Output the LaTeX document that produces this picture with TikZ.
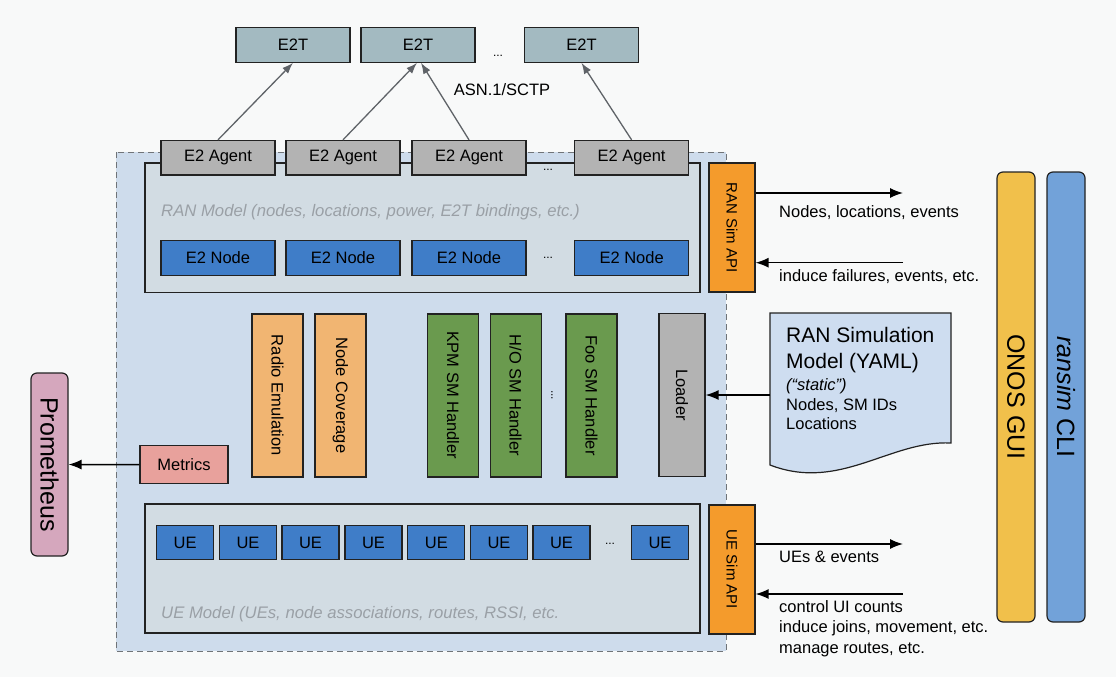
\documentclass[tikz,border=0pt]{standalone}
\usepackage{fontspec}
\setmainfont{Liberation Sans}
\usetikzlibrary{arrows.meta, positioning, calc}
\definecolor{pageGray}{HTML}{F8F9F9}
\definecolor{simBlue}{HTML}{CEDCEC}
\definecolor{modelGray}{HTML}{D2DCE3}
\definecolor{lineDark}{HTML}{222222}
\definecolor{dashGray}{HTML}{707478}
\definecolor{e2tTeal}{HTML}{A3BAC1}
\definecolor{agentGray}{HTML}{B3B3B3}
\definecolor{nodeBlue}{HTML}{3F7DC8}
\definecolor{apiOrange}{HTML}{F49B2C}
\definecolor{emuOrange}{HTML}{F1B572}
\definecolor{smGreen}{HTML}{6A9A4E}
\definecolor{docBlue}{HTML}{CEDDF0}
\definecolor{metricsPink}{HTML}{E8A19C}
\definecolor{promMauve}{HTML}{D5A7BD}
\definecolor{guiYellow}{HTML}{F1C04B}
\definecolor{cliBlue}{HTML}{72A2D9}
\definecolor{textMuted}{HTML}{9AA0A6}
\definecolor{linkGray}{HTML}{5F6368}

\begin{document}
\begin{tikzpicture}[x=1pt, y=-1pt, font=\fontsize{16.5}{19.5}\selectfont,
    box/.style={rectangle, draw=lineDark, line width=1.2pt, inner sep=0pt},
    wide/.style={box, minimum width=114pt, minimum height=34.5pt},
    ue/.style={box, fill=nodeBlue, minimum width=57pt, minimum height=34.5pt},
    vbox/.style={box, rotate=-90, minimum width=163pt, minimum height=51pt},
    api/.style={box, fill=apiOrange, rotate=-90, minimum width=129pt,
      minimum height=46pt, font=\fontsize{15}{18}\selectfont},
    client/.style={box, rounded corners=6pt, rotate=-90, minimum height=38pt,
      font=\fontsize{25}{30}\selectfont},
    model/.style={draw=lineDark, line width=1.2pt, fill=modelGray},
    modeltext/.style={anchor=west, inner sep=0pt, text=textMuted,
      font=\fontsize{16.7}{19}\selectfont\itshape},
    note/.style={anchor=west, align=left, inner sep=0pt},
    dots/.style={font=\fontsize{12}{14}\selectfont},
    link/.style={draw=linkGray, line width=1.3pt, -{Latex[length=11pt, width=8pt]}},
    flow/.style={draw=black, line width=1.4pt, -{Latex[length=13pt, width=10pt]}}]
    \fill[pageGray] (0,0) rectangle (1116,677);
    \useasboundingbox (0,0) rectangle (1116,677);
    % --- E2 terminations ---
    \node[wide, fill=e2tTeal] (e2t1) at (293,45) {E2T};
    \node[wide, fill=e2tTeal] (e2t2) at (418,45) {E2T};
    \node[wide, fill=e2tTeal] (e2t3) at (581.5,45) {E2T};
    \node[dots] (e2tdots) at (498,56) {...};
    \node (asn) at (502,90) {ASN.1/SCTP};
    % --- simulator container ---
    \draw[draw=dashGray, line width=1pt, fill=simBlue, dash pattern=on 6pt off 4pt]
      (116,152) rectangle (726,651);
    % --- RAN model ---
    \draw[model] (145,163) rectangle (700,292.5);
    \node[modeltext] (rantxt) at (161,212) {RAN Model (nodes, locations, power, E2T bindings, etc.)};
    \node[wide, fill=agentGray] (ag1) at (218,157.7) {E2 Agent};
    \node[wide, fill=agentGray] (ag2) at (343,157.7) {E2 Agent};
    \node[wide, fill=agentGray] (ag3) at (469,157.7) {E2 Agent};
    \node[wide, fill=agentGray] (ag4) at (631.6,157.7) {E2 Agent};
    \node[dots] (agdots) at (548,170) {...};
    \node[wide, fill=nodeBlue] (nd1) at (218,258) {E2 Node};
    \node[wide, fill=nodeBlue] (nd2) at (343,258) {E2 Node};
    \node[wide, fill=nodeBlue] (nd3) at (469,258) {E2 Node};
    \node[wide, fill=nodeBlue] (nd4) at (631.6,258) {E2 Node};
    \node[dots] (nddots) at (548,258) {...};
    \draw[link] (ag1.north) -- (e2t1.south);
    \draw[link] (ag2.north) -- ([xshift=-1pt]e2t2.south);
    \draw[link] (ag3.north) -- ([xshift=3pt]e2t2.south);
    \draw[link] (ag4.north) -- (e2t3.south);
    % --- RAN Sim API ---
    \node[api] (ranapi) at (732,227.5) {RAN Sim API};
    \coordinate (ranout) at (903,193);
    \coordinate (ranin) at (903,262.7);
    \draw[flow] (ranapi.north |- ranout) -- (ranout);
    \draw[flow] (ranin) -- (ranapi.north |- ranin);
    \node[note] (ranoutlbl) at (779,213) {Nodes, locations, events};
    \node[note] (raninlbl) at (779,276.7) {induce failures, events, etc.};
    % --- clients ---
    \node[client, fill=guiYellow, minimum width=450pt] (gui) at (1016,397) {ONOS GUI};
    \node[client, fill=cliBlue, minimum width=450pt] (cli) at (1066,397) {\textit{ransim} CLI};
    % --- emulation and SM handlers ---
    \node[vbox, fill=emuOrange] (radio) at (277.5,395.5) {Radio Emulation};
    \node[vbox, fill=emuOrange] (cover) at (340.5,395.5) {Node Coverage};
    \node[vbox, fill=smGreen] (kpm) at (453,395.5) {KPM SM Handler};
    \node[vbox, fill=smGreen] (ho) at (515.6,395.5) {H/O SM Handler};
    \node[dots, rotate=-90] (smdots) at (552,395) {...};
    \node[vbox, fill=smGreen] (foo) at (591.5,395.5) {Foo SM Handler};
    \node[vbox, fill=agentGray, minimum height=46pt] (loader) at (682,395) {Loader};
    % --- YAML model document ---
    \draw[draw=lineDark, line width=1.2pt, fill=docBlue]
      (770,313) -- (951,313) -- (951,443) .. controls (890,440) and (840,492) .. (770,465) -- cycle;
    \coordinate (docout) at (770,395);
    \node[note, font=\fontsize{21}{26}\selectfont] (doctitle) at (786,350) {RAN Simulation\\Model (YAML)};
    \node[note, font=\fontsize{16.5}{19.5}\selectfont] (docbody) at (786,404.5)
      {\textit{(“static”)}\\Nodes, SM IDs\\Locations};
    \draw[flow] (docout) -- (loader);
    % --- metrics ---
    \node[box, fill=metricsPink, minimum width=88pt, minimum height=38pt] (metrics) at (184,464.7) {Metrics};
    \node[client, fill=promMauve, minimum width=183pt, minimum height=37pt] (prom) at (49.5,464.5) {Prometheus};
    \draw[flow] (metrics) -- (prom);
    % --- UE model ---
    \draw[model] (145,504) rectangle (700,633);
    \node[ue] (ue1) at (185.2,542.5) {UE};
    \node[ue] (ue2) at (248,542.5) {UE};
    \node[ue] (ue3) at (310.5,542.5) {UE};
    \node[ue] (ue4) at (373.5,542.5) {UE};
    \node[ue] (ue5) at (436.3,542.5) {UE};
    \node[ue] (ue6) at (499,542.5) {UE};
    \node[ue] (ue7) at (561.5,542.5) {UE};
    \node[dots] (uedots) at (610,544) {...};
    \node[ue] (ue8) at (660,542.5) {UE};
    \node[modeltext] (uetxt) at (161,614) {UE Model (UEs, node associations, routes, RSSI, etc.};
    % --- UE Sim API ---
    \node[api] (ueapi) at (732,569.5) {UE Sim API};
    \coordinate (ueout) at (903,544);
    \coordinate (uein) at (903,594);
    \draw[flow] (ueapi.north |- ueout) -- (ueout);
    \draw[flow] (uein) -- (ueapi.north |- uein);
    \node[note] (ueoutlbl) at (779,557) {UEs \& events};
    \node[note, font=\fontsize{16.5}{20.5}\selectfont] (ueinlbl) at (779,628.5)
      {control UI counts\\induce joins, movement, etc.\\manage routes, etc.};
\end{tikzpicture}
\end{document}
